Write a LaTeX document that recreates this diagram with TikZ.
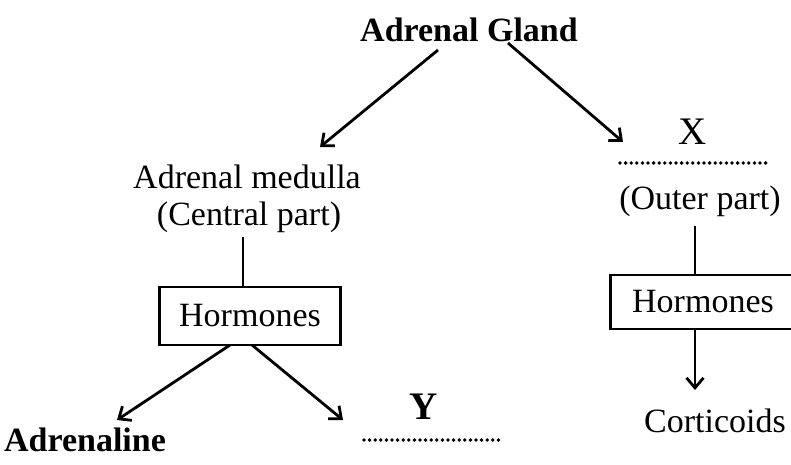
\documentclass[tikz,border=0pt]{standalone}
\usepackage{fontspec}
\setmainfont{Liberation Serif}
\usetikzlibrary{arrows.meta}
\tikzset{
  txt/.style={inner sep=0pt, font=\fontsize{34}{38}\selectfont},
  btxt/.style={inner sep=0pt, font=\fontsize{34}{38}\selectfont\bfseries},
  letter/.style={inner sep=0pt, font=\fontsize{39}{42}\selectfont},
  hbox/.style={draw, line width=2.6pt, minimum width=181pt, minimum height=58pt, inner sep=0pt, font=\fontsize{34}{38}\selectfont},
  conn/.style={line width=2.8pt},
  arr/.style={line width=2.8pt, -{Straight Barb[length=10pt,width=17pt,line width=2.8pt]}},
  dotline/.style={line width=3.8pt, line cap=round, dash pattern=on 0pt off 5.6pt}
}
\begin{document}
\begin{tikzpicture}[x=1pt,y=-1pt]
\useasboundingbox (0,0) rectangle (791,464);
\node[btxt] (title) at (469,30) {Adrenal Gland};
\node[txt] (med) at (247,177) {Adrenal medulla};
\node[txt] (cen) at (249,217) {(Central part)};
\node[hbox] (hl) at (250,316) {Hormones};
\node[btxt] (adr) at (85,440) {Adrenaline};
\node[letter, font=\fontsize{39}{42}\selectfont\bfseries] (y) at (424,407) {Y};
\coordinate (yl) at (364,440);
\coordinate (yr) at (499,440);
\node[letter] (x) at (693,132) {X};
\coordinate (xl) at (620,163);
\coordinate (xr) at (767,163);
\node[txt] (out) at (700,201) {(Outer part)};
\node[hbox, minimum height=54pt, minimum width=185pt] (hr) at (703,302) {Hormones};
\node[txt] (cort) at (715,421) {Corticoids};
% connector end points
\coordinate (t1) at (438,50);
\coordinate (t1e) at (320,147);
\coordinate (t2) at (508,43);
\coordinate (t2e) at (623,142);
\coordinate (l1) at (243,237);
\coordinate (b1) at (230,345);
\coordinate (b1e) at (117,420);
\coordinate (b2) at (252,345);
\coordinate (b2e) at (343,420);
\coordinate (r1) at (695,226);
\coordinate (r2e) at (695,390);
\draw[arr] (t1) -- (t1e);
\draw[arr] (t2) -- (t2e);
\draw[conn] (l1) -- (l1 |- hl.north);
\draw[arr] (b1) -- (b1e);
\draw[arr] (b2) -- (b2e);
\draw[conn] (r1) -- (r1 |- hr.north);
\draw[arr] (r1 |- hr.south) -- (r2e);
\draw[dotline] (yl) -- (yr);
\draw[dotline] (xl) -- (xr);
\end{tikzpicture}
\end{document}
